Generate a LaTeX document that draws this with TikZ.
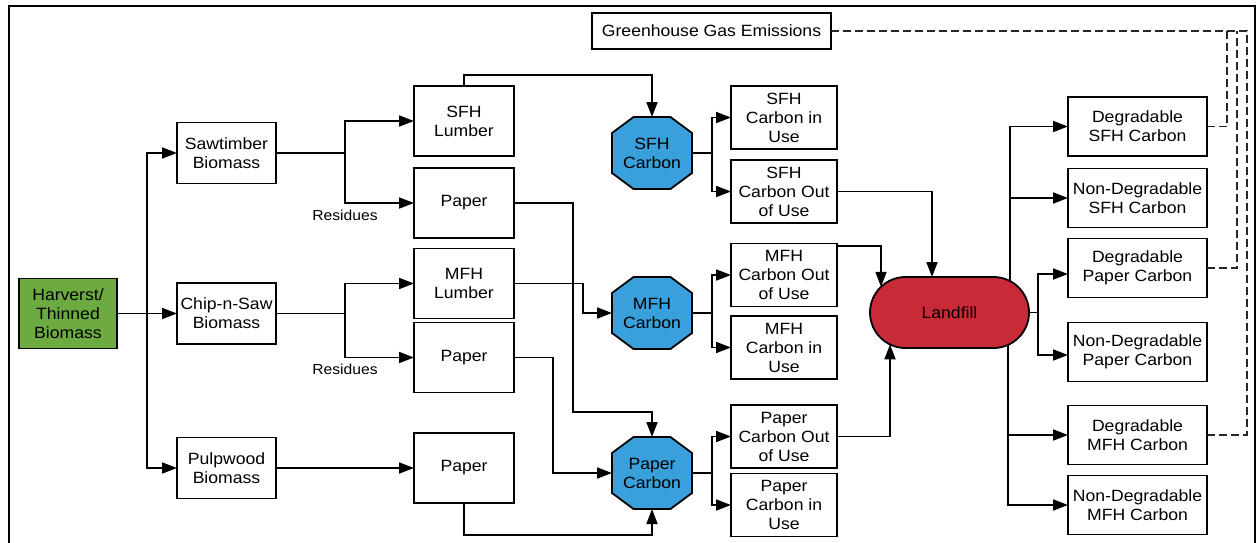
\documentclass[tikz,border=0pt]{standalone}
\usepackage{fontspec}
\setmainfont{Liberation Sans}[FakeStretch=1.08]
\usetikzlibrary{arrows.meta,shapes.misc,calc,backgrounds}
\definecolor{hgreen}{RGB}{108,170,66}
\definecolor{cblue}{RGB}{58,160,219}
\definecolor{lred}{RGB}{200,42,56}
\tikzset{
  every node/.style={font=\fontsize{16.3}{19}\selectfont, inner sep=0pt, outer sep=0pt},
  box/.style={draw, line width=1.8pt, align=center, fill=white},
  biobox/.style={box, minimum width=99pt, minimum height=61pt},
  midbox/.style={box, minimum width=100pt, minimum height=70pt},
  carbbox/.style={box, minimum width=106pt, minimum height=63pt},
  rbox/.style={box, minimum width=139pt, minimum height=59pt},
  octnode/.style={minimum width=80pt, minimum height=72pt, align=center},
  octfill/.style={fill=cblue, draw=black, line width=1.8pt},
  conn/.style={line width=1.8pt},
  arr/.style={conn, -{Triangle[length=15pt,width=11pt]}},
  ghgline/.style={line width=1.1pt, dash pattern=on 8pt off 4pt, draw=black!85},
  lbl/.style={font=\fontsize{14.5}{16}\selectfont}
}
\newcommand\octdraw[1]{%
  \filldraw[octfill] ($(#1.north west)+(21.5,0)$) -- ($(#1.north east)+(-21.5,0)$) -- ($(#1.north east)+(0,16)$) -- ($(#1.south east)+(0,-16)$) -- ($(#1.south east)+(-21.5,0)$) -- ($(#1.south west)+(21.5,0)$) -- ($(#1.south west)+(0,-16)$) -- ($(#1.north west)+(0,16)$) -- cycle;}
\begin{document}
\begin{tikzpicture}[x=1pt,y=-1pt]
\useasboundingbox (0,0) rectangle (1257,542);
% frame
\draw[line width=1.8pt] (9,545) -- (9,6) -- (1255,6) -- (1255,545);

% left column
\node[box, fill=hgreen, minimum width=98pt, minimum height=70pt] (harv) at (68,313.5) {Harverst/\\Thinned\\Biomass};
\node[biobox] (saw) at (226.5,153) {Sawtimber\\Biomass};
\node[biobox] (chip) at (226.5,313.5) {Chip-n-Saw\\Biomass};
\node[biobox] (pulp) at (226.5,468) {Pulpwood\\Biomass};

% products
\node[midbox] (sfhl) at (464,121) {SFH\\Lumber};
\node[midbox] (p1) at (464,203) {Paper};
\node[midbox] (mfhl) at (464,283.5) {MFH\\Lumber};
\node[midbox] (p2) at (464,357.5) {Paper};
\node[midbox] (p3) at (464,468) {Paper};
\node[lbl] (res1) at (345,215) {Residues};
\node[lbl] (res2) at (345,369) {Residues};

% octagons
\node[octnode] (sfhc) at (652,153) {SFH\\Carbon};
\node[octnode] (mfhc) at (652,313) {MFH\\Carbon};
\node[octnode] (papc) at (652,473) {Paper\\Carbon};
\begin{scope}[on background layer]
\octdraw{sfhc}
\octdraw{mfhc}
\octdraw{papc}
\end{scope}

% carbon use boxes
\node[carbbox] (sfhin) at (784,117.5) {SFH\\Carbon in\\Use};
\node[carbbox] (sfhout) at (784,191.5) {SFH\\Carbon Out\\of Use};
\node[carbbox] (mfhout) at (784,275) {MFH\\Carbon Out\\of Use};
\node[carbbox] (mfhin) at (784,347.5) {MFH\\Carbon in\\Use};
\node[carbbox] (papout) at (784,436.5) {Paper\\Carbon Out\\of Use};
\node[carbbox] (papin) at (784,505) {Paper\\Carbon in\\Use};

% landfill
\node[rounded rectangle, draw, line width=1.8pt, fill=lred, minimum width=159pt, minimum height=71pt] (land) at (949.5,312.5) {Landfill};

% right boxes
\node[rbox] (dsfh) at (1137.5,126.5) {Degradable\\SFH Carbon};
\node[rbox] (ndsfh) at (1137.5,198) {Non-Degradable\\SFH Carbon};
\node[rbox] (dpap) at (1137.5,268) {Degradable\\Paper Carbon};
\node[rbox] (ndpap) at (1137.5,352) {Non-Degradable\\Paper Carbon};
\node[rbox] (dmfh) at (1137.5,435) {Degradable\\MFH Carbon};
\node[rbox] (ndmfh) at (1137.5,505) {Non-Degradable\\MFH Carbon};

% GHG
\node[box, minimum width=239pt, minimum height=36pt] (ghg) at (711.5,31) {Greenhouse Gas Emissions};

% connectors: harvest
\draw[arr] (harv.east) -- (chip.west);
\draw[arr] (harv.east) -- ++(30,0) |- (saw.west);
\draw[arr] (harv.east) -- ++(30,0) |- (pulp.west);
% biomass splits
\draw[arr] (saw.east) -- ++(69,0) |- (sfhl.west);
\draw[arr] (saw.east) -- ++(69,0) |- (p1.west);
\draw[arr] (chip.east) -- ++(69,0) |- (mfhl.west);
\draw[arr] (chip.east) -- ++(69,0) |- (p2.west);
\draw[arr] (pulp.east) -- (p3.west);
% products to carbon
\draw[arr] (sfhl.north) -- ++(0,-11) -| (sfhc.north);
\draw[arr] (p1.east) -- ++(59,0) -- ++(0,209) -| (papc.north);
\draw[arr] (mfhl.east) -- ++(69,0) |- (mfhc.west);
\draw[arr] (p2.east) -- ++(39,0) |- (papc.west);
\draw[arr] (p3.south) -- ++(0,32) -| (papc.south);
% carbon splits
\draw[arr] (sfhc.east) -- ++(20,0) |- (sfhin.west);
\draw[arr] (sfhc.east) -- ++(20,0) |- (sfhout.west);
\draw[arr] (mfhc.east) -- ++(20,0) |- (mfhout.west);
\draw[arr] (mfhc.east) -- ++(20,0) |- (mfhin.west);
\draw[arr] (papc.east) -- ++(20,0) |- (papout.west);
\draw[arr] (papc.east) -- ++(20,0) |- (papin.west);
% to landfill
\draw[arr] (sfhout.east) -| ([xshift=-17.5pt]land.north);
\draw[arr] ([yshift=29pt]mfhout.east) -| ([shift={(-68.5pt,25.7pt)}]land.center);
\draw[arr] (papout.east) -| ([shift={(-59.5pt,-31.9pt)}]land.center);
% from landfill
\draw[arr] ([shift={(60.5pt,31.4pt)}]land.center) |- (dsfh.west);
\draw[arr] ([shift={(60.5pt,31.4pt)}]land.center) |- (ndsfh.west);
\draw[arr] (land.east) -- ++(9,0) |- ([yshift=-6pt]dpap.west);
\draw[arr] (land.east) -- ++(9,0) |- ([yshift=-3pt]ndpap.west);
\draw[arr] ([shift={(58.5pt,-32.4pt)}]land.center) |- (dmfh.west);
\draw[arr] ([shift={(58.5pt,-32.4pt)}]land.center) |- (ndmfh.west);
% dashed GHG
\draw[ghgline] (dmfh.east) -- ++(40,0) |- (ghg.east);
\draw[ghgline] (dsfh.east) -- ++(20,0) coordinate (gs) -- (gs |- ghg.east);
\draw[ghgline] (dpap.east) -- ++(30,0) coordinate (gp) -- (gp |- ghg.east);
\end{tikzpicture}
\end{document}
